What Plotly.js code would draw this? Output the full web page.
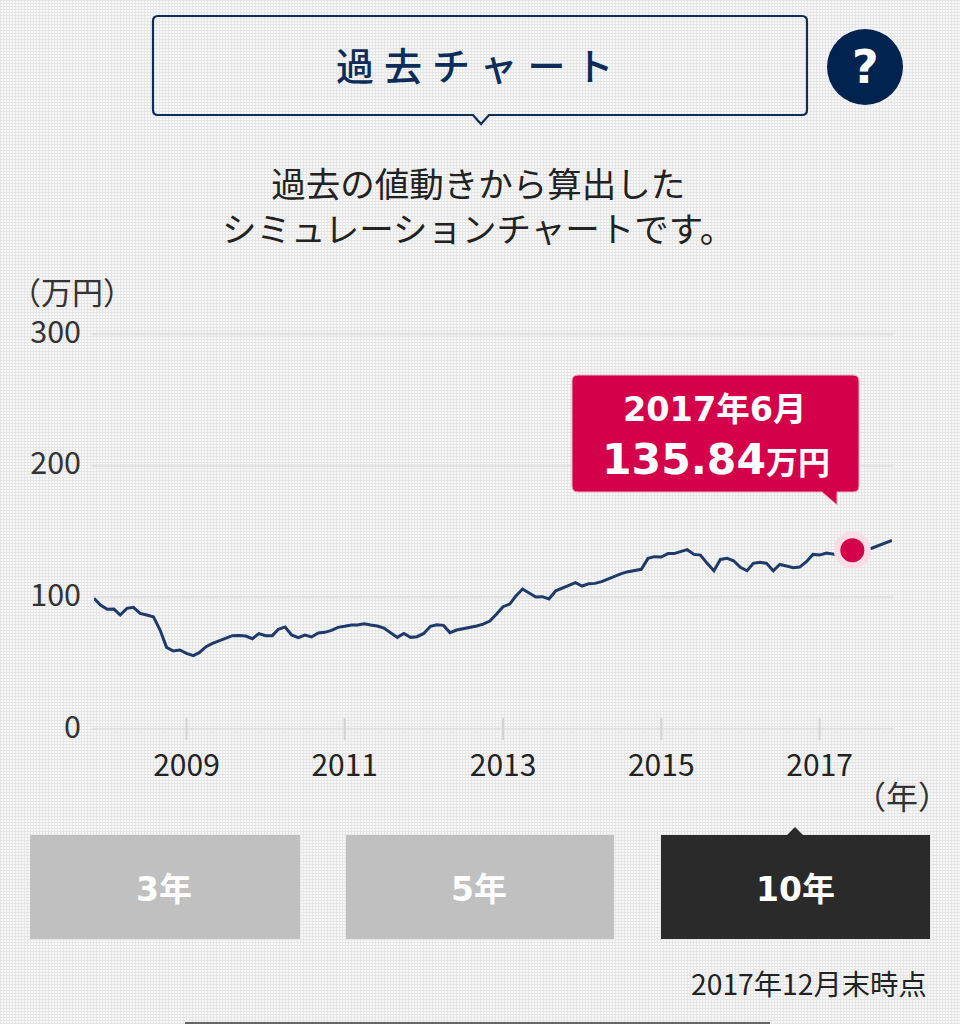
<!DOCTYPE html>
<html><head><meta charset="utf-8">
<script src="https://cdn.plot.ly/plotly-3.0.1.min.js"></script>
<style>
html,body{margin:0;padding:0;width:960px;height:1024px;overflow:hidden;background-color:#f7f7f7;
background-image:repeating-linear-gradient(0deg,#e6e6e6 0 1px,transparent 1px 3px),repeating-linear-gradient(90deg,#e6e6e6 0 1px,transparent 1px 3px);}
.annotation[data-index="0"] text{letter-spacing:10px;}
</style></head><body><div id="chart" style="width:960px;height:1024px"></div>
<script>
const months = [
"2007-11","2007-12",
"2008-01","2008-02","2008-03","2008-04","2008-05","2008-06","2008-07","2008-08","2008-09","2008-10","2008-11","2008-12",
"2009-01","2009-02","2009-03","2009-04","2009-05","2009-06","2009-07","2009-08","2009-09","2009-10","2009-11","2009-12",
"2010-01","2010-02","2010-03","2010-04","2010-05","2010-06","2010-07","2010-08","2010-09","2010-10","2010-11","2010-12",
"2011-01","2011-02","2011-03","2011-04","2011-05","2011-06","2011-07","2011-08","2011-09","2011-10","2011-11","2011-12",
"2012-01","2012-02","2012-03","2012-04","2012-05","2012-06","2012-07","2012-08","2012-09","2012-10","2012-11","2012-12",
"2013-01","2013-02","2013-03","2013-04","2013-05","2013-06","2013-07","2013-08","2013-09","2013-10","2013-11","2013-12",
"2014-01","2014-02","2014-03","2014-04","2014-05","2014-06","2014-07","2014-08","2014-09","2014-10","2014-11","2014-12",
"2015-01","2015-02","2015-03","2015-04","2015-05","2015-06","2015-07","2015-08","2015-09","2015-10","2015-11","2015-12",
"2016-01","2016-02","2016-03","2016-04","2016-05","2016-06","2016-07","2016-08","2016-09","2016-10","2016-11","2016-12",
"2017-01","2017-02","2017-03","2017-04","2017-05","2017-06","2017-07","2017-08","2017-09","2017-10","2017-11","2017-12"];
const values = [
99.2,94.2,
90.9,91.1,86.6,91.6,92.4,87.8,86.6,85.3,75.2,62,59.2,60,
57.5,55.7,58,62.5,65,67,69.4,70.9,71.1,70.6,68.6,72.4,
70.9,70.9,75.7,77.5,71.4,69.4,71.4,69.9,72.9,73.4,74.9,77.2,
78,79,79,80,79,78.2,76.7,73.2,69.6,72.6,69.6,70.1,
72.6,78,79.2,78.7,73.2,75.2,76.2,77,78.2,79.7,82,87.1,
92.9,94.9,101,106.3,103.5,100.2,100.5,98.7,105,107.3,109.1,111.1,
108.6,110.4,110.6,111.9,113.9,116.2,118,119.5,120.5,121.3,129.6,130.9,
130.6,133.2,133.2,134.7,136.2,132.6,132.1,125.8,120.2,128.8,129.6,127.8,
122.8,120.2,125.8,126.6,125.8,120.2,125,123.8,122.5,123,127.1,132.6,
132.1,133.7,133.2,132.1,133.4,135.84,134.9,135.9,137.5,139.5,141.5,143.3];
const highlightMonth = ["2017-06"];
const highlightValue = [135.84];
const tickMonths = ["2009-01","2011-01","2013-01","2015-01","2017-01"];
const yTicks = [0,100,200,300];
const yTickLabels = ["0","100","200","300"];

const L=94,R=892,T=334,B=729;
const fx=x=>(x-L)/(R-L), fy=y=>(B-y)/(B-T);
const JP='"Noto Sans CJK JP","Noto Sans",sans-serif';
const BOLD='"DejaVu Sans","Noto Sans CJK JP",sans-serif';
const path=pts=>'M'+pts.map(p=>fx(p[0])+','+fy(p[1])).join('L')+'Z';
const box=(x,y,w,h,fill)=>({type:'rect',xref:'paper',yref:'paper',x0:fx(x),x1:fx(x+w),y0:fy(y+h),y1:fy(y),fillcolor:fill,line:{width:0}});
function rounded(x0,y0,x1,y1,r,tail){
  const c=(a,b)=>fx(a)+','+fy(b);
  let d='M'+c(x0+r,y0)+'L'+c(x1-r,y0)+'Q'+c(x1,y0)+' '+c(x1,y0+r)+'L'+c(x1,y1-r)+'Q'+c(x1,y1)+' '+c(x1-r,y1);
  d+=tail.map(p=>'L'+c(p[0],p[1])).join('');
  d+='L'+c(x0+r,y1)+'Q'+c(x0,y1)+' '+c(x0,y1-r)+'L'+c(x0,y0+r)+'Q'+c(x0,y0)+' '+c(x0+r,y0)+'Z';
  return d;
}
const ann=(text,x,y,size,color,family,anchor,weight)=>({text:text,xref:'paper',yref:'paper',x:fx(x),y:fy(y),xanchor:anchor||'center',yanchor:'middle',showarrow:false,font:{size:size,color:color,family:family||JP,weight:weight||400}});

const shapes=[
 {type:'path',xref:'paper',yref:'paper',path:rounded(153,16,807,115,5,[[489,115],[481,124],[473,115]]),fillcolor:'rgba(0,0,0,0)',line:{color:'#0c2c5a',width:2.2}},
 {type:'circle',xref:'paper',yref:'paper',x0:fx(827),x1:fx(903),y0:fy(105),y1:fy(29),fillcolor:'#00234f',line:{width:0}},
 {type:'path',xref:'paper',yref:'paper',path:rounded(572,375,859,492,6,[[837,492],[837,505],[822,492]]),fillcolor:'#d4004a',line:{color:'#eeb0c4',width:1}},
 box(30,835,270,104,'#c0c0c0'),
 box(346,835,268,104,'#c0c0c0'),
 box(661,835,269,104,'#2a2a2a'),
 {type:'path',xref:'paper',yref:'paper',path:path([[787,835],[795,827],[803,835]]),fillcolor:'#2a2a2a',line:{width:0}},
 box(185,1022,585,2,'#666666')
].concat(
 yTicks.map(v=>({type:'line',xref:'paper',yref:'paper',x0:fx(92),x1:fx(893),y0:v/300,y1:v/300,line:{color:'#e2e2e2',width:2.5},layer:'below'})),
 tickMonths.map(m=>({type:'line',xref:'x',yref:'paper',x0:m,x1:m,y0:fy(740),y1:fy(718),line:{color:'#d2d2d2',width:2},layer:'below'}))
);

const annotations=[
 ann('過去チャート',480,64,38,'#0c2c5a',JP,'center',500),
 ann('?',865,67,46,'#ffffff',BOLD,'center',700),
 ann('過去の値動きから算出した<br>シミュレーションチャートです。',478,204,34.5,'#222222'),
 ann('（万円）',8,290,31,'#333333',JP,'left'),
 ann('（年）',952,795,32,'#333333',JP,'right'),
 ann('2017年6月',715,409,33.5,'#ffffff',BOLD,'center',700),
 ann('135.84<span style="font-size:32px">万円</span>',716,459,42.5,'#ffffff',BOLD,'center',700),
 ann('3年',164,889,33,'#ffffff',BOLD,'center',700),
 ann('5年',479,889,33,'#ffffff',BOLD,'center',700),
 ann('10年',795,889,33,'#ffffff',BOLD,'center',700),
 ann('2017年12月末時点',929,982,28.3,'#222222',JP,'right')
];

const traces=[
 {x:months,y:values,type:'scatter',mode:'lines',line:{color:'#1d3a68',width:3},hoverinfo:'skip'},
 {x:highlightMonth,y:highlightValue,type:'scatter',mode:'markers',marker:{size:37,color:'#f8dde6'},hoverinfo:'skip'},
 {x:highlightMonth,y:highlightValue,type:'scatter',mode:'markers',marker:{size:24,color:'#d4004a'},hoverinfo:'skip'}
];
const layout={
 width:960,height:1024,autosize:false,showlegend:false,
 paper_bgcolor:'rgba(0,0,0,0)',plot_bgcolor:'rgba(0,0,0,0)',
 margin:{l:L,r:960-R,t:T,b:1024-B,pad:0},
 font:{family:JP},
 xaxis:{type:'date',range:['2007-11-01','2017-12-01'],tick0:'2009-01-01',dtick:'M24',tickformat:'%Y',showgrid:false,zeroline:false,showline:false,ticks:'',ticklabelstandoff:16,tickfont:{size:30,color:'#222222',family:JP}},
 yaxis:{range:[0,300],tickvals:yTicks,ticktext:yTickLabels,showgrid:false,zeroline:false,showline:false,ticks:'',ticklabelstandoff:12,ticklabelshift:-2,tickfont:{size:30.5,color:'#333333',family:JP}},
 shapes:shapes,annotations:annotations
};
Plotly.newPlot('chart',traces,layout,{displayModeBar:false,staticPlot:true});
</script></body></html>
